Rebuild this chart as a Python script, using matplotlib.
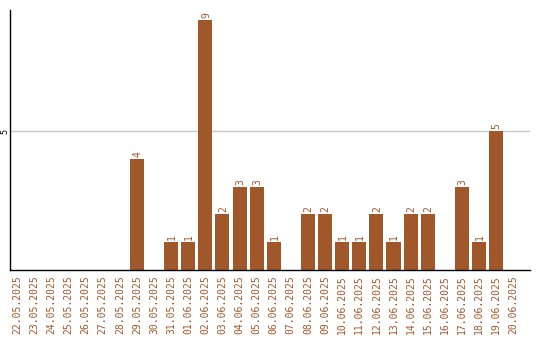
import matplotlib
matplotlib.use("Agg")
import matplotlib.pyplot as plt

dates = ["22.05.2025", "23.05.2025", "24.05.2025", "25.05.2025", "26.05.2025",
         "27.05.2025", "28.05.2025", "29.05.2025", "30.05.2025", "31.05.2025",
         "01.06.2025", "02.06.2025", "03.06.2025", "04.06.2025", "05.06.2025",
         "06.06.2025", "07.06.2025", "08.06.2025", "09.06.2025", "10.06.2025",
         "11.06.2025", "12.06.2025", "13.06.2025", "14.06.2025", "15.06.2025",
         "16.06.2025", "17.06.2025", "18.06.2025", "19.06.2025", "20.06.2025"]
counts = [0, 0, 0, 0, 0, 0, 0, 4, 0, 1,
          1, 9, 2, 3, 3, 1, 0, 2, 2, 1,
          1, 2, 1, 2, 2, 0, 3, 1, 5, 0]

color = "#a0572a"
font = "DejaVu Sans Mono"

fig = plt.figure(figsize=(5.4, 3.4), dpi=100)
ax = fig.add_axes([10 / 540, 70 / 340, 520 / 540, 260 / 340])

x = list(range(len(dates)))
ax.bar(x, counts, width=0.82, color=color, zorder=2)

for i, v in enumerate(counts):
    if v > 0:
        ax.annotate(str(v), (i, v), xytext=(2.6, 1.5), textcoords="offset points",
                    rotation=90, rotation_mode="anchor", ha="left", va="baseline",
                    fontsize=7, color=color, family=font)

ax.set_xlim(-0.42, 29.98)
ax.set_ylim(0, 9.36)
ax.set_yticks([5])
ax.set_yticklabels([""])
ax.annotate("5", (0, 5), xycoords=ax.get_yaxis_transform(), xytext=(-1.8, 0),
            textcoords="offset points", rotation=90, rotation_mode="anchor",
            ha="center", va="baseline", fontsize=6, family=font)
ax.yaxis.grid(True, color="#c8c8c8", linewidth=1, zorder=0)
ax.set_xticks(x)
ax.set_xticklabels(dates, rotation=90, fontsize=7, color=color, family=font)
ax.tick_params(axis="both", length=0, pad=4)

for s in ["top", "right"]:
    ax.spines[s].set_visible(False)
ax.spines["left"].set_color("black")
ax.spines["bottom"].set_color("black")
ax.spines["left"].set_linewidth(1)
ax.spines["bottom"].set_linewidth(1)

fig.savefig("out.png", dpi=100)
